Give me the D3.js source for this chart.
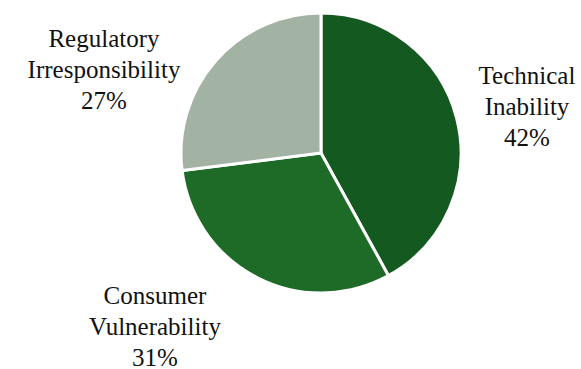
<!DOCTYPE html>
<html>
<head>
<meta charset="utf-8">
<script src="https://cdn.jsdelivr.net/npm/d3@7"></script>
<style>
  body { margin: 0; background: #fff; }
  #chart { position: relative; width: 581px; height: 369px; }
  .lab {
    position: absolute;
    transform: translateX(-50%);
    font-family: "Liberation Serif", "Times New Roman", serif;
    font-size: 25px;
    line-height: 31px;
    color: #111;
    text-align: center;
    white-space: nowrap;
  }
</style>
</head>
<body>
<div id="chart"></div>
<script>
// data
const categories = ["Technical Inability", "Consumer Vulnerability", "Regulatory Irresponsibility"];
const values = [42, 31, 27];
const colors = ["#145a20", "#1e6b27", "#a2b2a3"];
// label lines, split as in the picture
const labelLines = [["Technical", "Inability"], ["Consumer", "Vulnerability"], ["Regulatory", "Irresponsibility"]];

const width = 581, height = 369;
const cx = 321, cy = 153, radius = 140;

const chart = d3.select("#chart");

const svg = chart.append("svg")
    .attr("width", width)
    .attr("height", height);

const g = svg.append("g").attr("transform", "translate(" + cx + "," + cy + ")");

const pie = d3.pie().sort(null).value(function (d) { return d; });
const arcs = pie(values);
const arc = d3.arc().innerRadius(0).outerRadius(radius);

g.selectAll("path")
  .data(arcs)
  .join("path")
    .attr("d", arc)
    .attr("fill", function (d, i) { return colors[i]; })
    .attr("stroke", "#fff")
    .attr("stroke-width", 3)
    .attr("stroke-linejoin", "miter");

// label blocks as html over the svg; top-left of block centre given
const labelPos = [[527, 60], [155, 280], [104, 23]];

chart.selectAll("div.lab")
  .data(arcs)
  .join("div")
    .attr("class", "lab")
    .style("left", function (d, i) { return labelPos[i][0] + "px"; })
    .style("top", function (d, i) { return labelPos[i][1] + "px"; })
    .html(function (d, i) {
      return labelLines[i].concat([values[i] + "%"]).join("<br>");
    });
</script>
</body>
</html>
